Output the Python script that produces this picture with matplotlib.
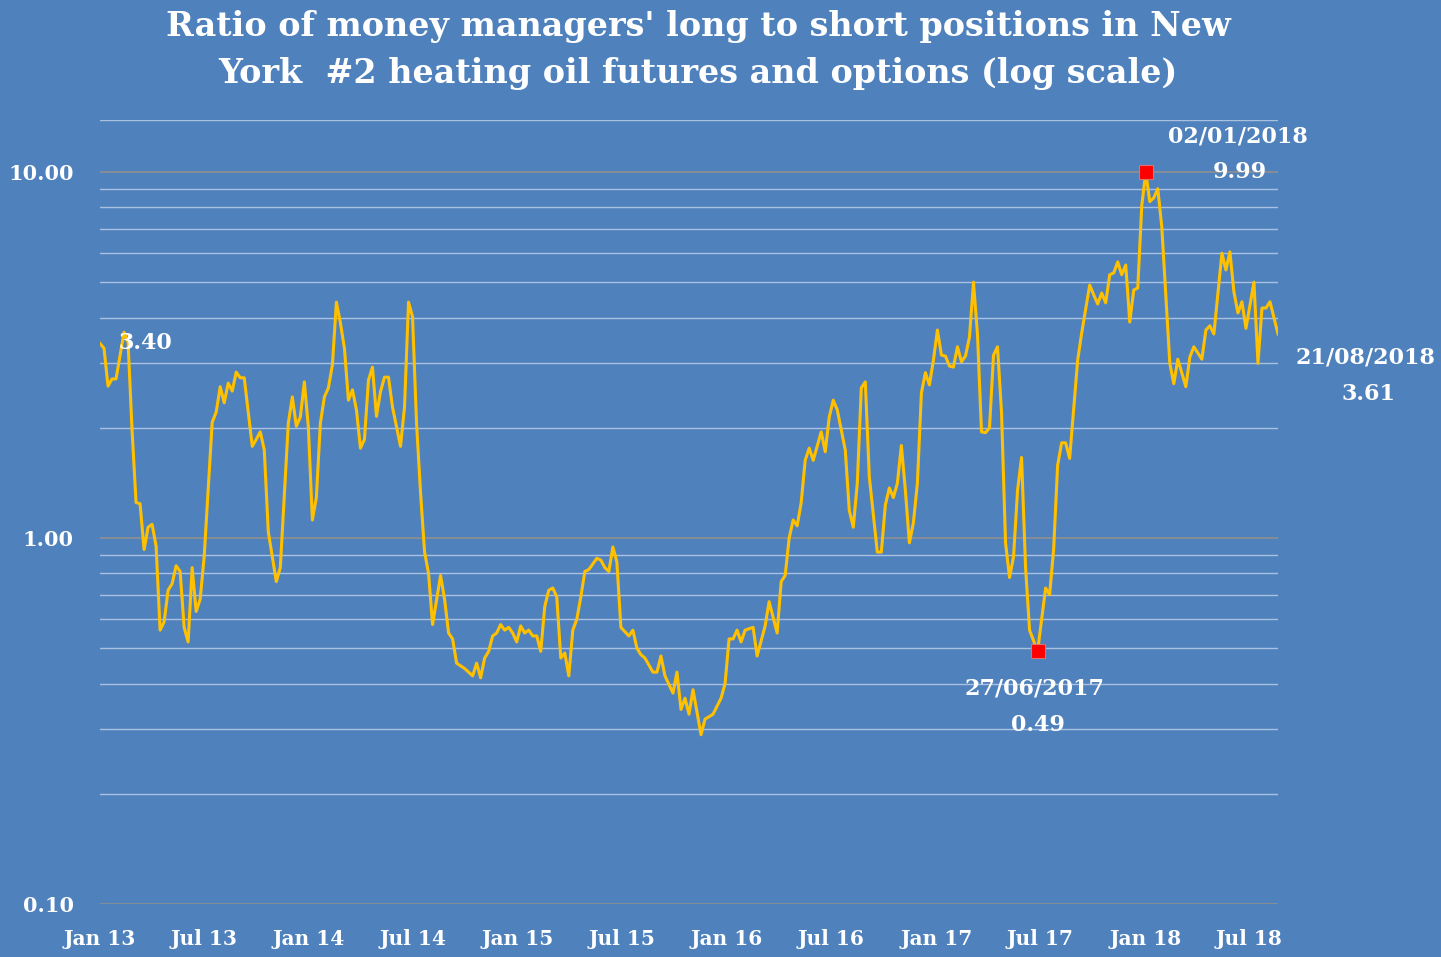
import numpy as np
import pandas as pd
import matplotlib.pyplot as plt
import matplotlib.ticker as mticker

# weekly reports, counted in weeks from 01/01/2013
weeks_13 = [0, 1, 2, 3, 4, 6, 7, 8, 9, 10, 11, 12, 13, 14, 15, 16, 17, 18, 19, 20, 21, 22, 23, 24, 25, 26,
            28, 29, 30, 31, 32, 33, 34, 35, 36, 38, 39, 40, 41, 42, 44, 45, 47, 48, 49, 50, 51, 52]
ratio_13 = [3.40, 3.30, 2.60, 2.72, 2.72, 3.65, 3.43, 1.97, 1.25, 1.24, 0.93, 1.07, 1.09, 0.95, 0.56, 0.59,
            0.72, 0.75, 0.84, 0.81, 0.57, 0.52, 0.83, 0.63, 0.68, 0.89,
            2.07, 2.21, 2.59, 2.34, 2.65, 2.52, 2.84, 2.74, 2.74, 1.78, 1.86, 1.95, 1.74, 1.04, 0.76, 0.83,
            2.06, 2.43, 2.02, 2.14, 2.67, 2.01]

weeks_14 = [53, 54, 55, 56, 57, 58, 59, 60, 61, 62, 63, 64, 65, 66, 67, 68, 69, 70, 71, 72, 73, 75, 76, 77,
            78, 79, 80, 81, 82, 83, 85, 86, 87, 88, 89, 91, 93, 94, 95, 96]
ratio_14 = [1.12, 1.29, 2.06, 2.43, 2.57, 2.97, 4.41, 3.87, 3.30, 2.38, 2.54, 2.24, 1.76, 1.86, 2.70, 2.93,
            2.15, 2.51, 2.75, 2.75, 2.28, 1.78, 2.28, 4.41, 4.02, 2.06, 1.33, 0.916, 0.80, 0.58, 0.79, 0.68,
            0.55, 0.53, 0.455, 0.44, 0.42, 0.455, 0.415, 0.47]

weeks_15 = [97, 98, 99, 100, 101, 102, 103, 104, 105, 106, 107, 108, 109, 110, 111, 112, 113, 114, 115, 116,
            117, 118, 119, 120, 121, 122, 124, 125, 126, 127, 128, 129, 130, 132, 133, 134, 135, 136, 138, 139,
            140, 141, 143, 144, 145, 146, 147, 148, 150, 151, 153, 155, 156]
ratio_15 = [0.49, 0.54, 0.55, 0.58, 0.56, 0.57, 0.55, 0.52, 0.575, 0.55, 0.56, 0.54, 0.54, 0.49, 0.65, 0.72,
            0.73, 0.69, 0.47, 0.485, 0.42, 0.56, 0.60, 0.69, 0.81, 0.82, 0.88, 0.87, 0.83, 0.81, 0.945, 0.86,
            0.57, 0.54, 0.56, 0.50, 0.48, 0.47, 0.43, 0.43, 0.476, 0.42, 0.377, 0.43, 0.34, 0.365, 0.33, 0.385,
            0.29, 0.32, 0.33, 0.365, 0.40]

weeks_16 = [157, 158, 159, 160, 161, 163, 164, 166, 167, 169, 170, 171, 172, 173, 174, 175, 176, 177, 178,
            180, 181, 182, 183, 184, 186, 187, 188, 189, 190, 191, 192, 194, 195, 196, 197, 198, 199, 200, 201,
            202, 203, 204]
ratio_16 = [0.53, 0.53, 0.56, 0.52, 0.56, 0.57, 0.476, 0.575, 0.67, 0.55, 0.76, 0.79, 1.0, 1.12, 1.08, 1.25,
            1.63, 1.76, 1.63, 1.95, 1.72, 2.14, 2.38, 2.24, 1.74, 1.19, 1.07, 1.41, 2.57, 2.67, 1.47, 0.915,
            0.915, 1.23, 1.37, 1.29, 1.41, 1.79, 1.35, 0.97, 1.10, 1.41]

weeks_17 = [205, 206, 207, 208, 209, 210, 211, 212, 213, 214, 215, 216, 217, 218, 219, 220, 221, 222, 223,
            224, 225, 226, 227, 228, 229, 230, 231, 232, 234, 236, 237, 238, 239, 240, 241, 242, 244, 245,
            247, 248, 249, 250, 251, 252, 253, 254, 255, 256, 257, 258, 259, 260]
ratio_17 = [2.49, 2.83, 2.62, 3.06, 3.70, 3.16, 3.14, 2.95, 2.93, 3.33, 3.03, 3.14, 3.54, 5.0, 3.6, 1.95,
            1.94, 2.0, 3.16, 3.33, 2.2, 0.97, 0.78, 0.89, 1.35, 1.66, 0.83, 0.56, 0.49, 0.73, 0.70, 0.93,
            1.58, 1.82, 1.82, 1.65, 3.06, 3.63, 4.91, 4.62, 4.36, 4.67, 4.39, 5.24, 5.3, 5.68, 5.24, 5.57,
            3.89, 4.76, 4.82, 8.1]

weeks_18 = [261, 262, 263, 264, 265, 267, 268, 269, 271, 272, 273, 275, 276, 277, 278, 280, 281, 282, 283,
            284, 285, 286, 288, 289, 290, 291, 292, 293, 294]
ratio_18 = [9.99, 8.3, 8.5, 9.0, 7.07, 3.0, 2.64, 3.08, 2.59, 3.12, 3.33, 3.08, 3.70, 3.80, 3.61, 6.0, 5.4,
            6.05, 4.70, 4.12, 4.42, 3.74, 5.0, 3.0, 4.25, 4.25, 4.42, 4.0, 3.61]

tick_dates = ['2013-01-01', '2013-07-01', '2014-01-01', '2014-07-01', '2015-01-01', '2015-07-01',
              '2016-01-01', '2016-07-01', '2017-01-01', '2017-07-01', '2018-01-01', '2018-07-01']
tick_labels = ['Jan 13', 'Jul 13', 'Jan 14', 'Jul 14', 'Jan 15', 'Jul 15',
               'Jan 16', 'Jul 16', 'Jan 17', 'Jul 17', 'Jan 18', 'Jul 18']

weeks = np.array(weeks_13 + weeks_14 + weeks_15 + weeks_16 + weeks_17 + weeks_18)
ratio = np.array(ratio_13 + ratio_14 + ratio_15 + ratio_16 + ratio_17 + ratio_18)
dates = pd.Timestamp('2013-01-01') + pd.to_timedelta(weeks * 7, unit='D')
df = pd.DataFrame({'date': dates, 'ratio': ratio})

BG = '#4F81BD'
LINE = '#FFC000'
FONT = 'DejaVu Serif'

fig = plt.figure(figsize=(14.41, 9.57), dpi=100, facecolor=BG)
ax = fig.add_axes([100 / 1441, 1 - 904 / 957, 1178 / 1441, 784 / 957])
ax.set_facecolor(BG)

ax.plot(df['date'], df['ratio'], color=LINE, linewidth=2.2, zorder=3)

ax.set_yscale('log')
ax.set_ylim(0.1, 10 ** (1 + 52 / 366))
ax.set_xlim(pd.Timestamp('2013-01-01'), pd.Timestamp('2018-08-21'))

ax.yaxis.set_major_locator(mticker.FixedLocator([0.1, 1, 10]))
ax.yaxis.set_major_formatter(mticker.FixedFormatter(['0.10', '1.00', '10.00']))
ax.yaxis.set_minor_locator(mticker.LogLocator(base=10, subs=np.arange(2, 10)))
ax.yaxis.set_minor_formatter(mticker.NullFormatter())
ax.grid(True, which='major', axis='y', color='#8f8f8f', linewidth=1.2, zorder=1)
ax.grid(True, which='minor', axis='y', color='#a9c0df', linewidth=1.0, zorder=1)
ax.axhline(10 ** (1 + 52 / 366), color='#a9c0df', linewidth=1.0, zorder=1)

ax.set_xticks(pd.to_datetime(tick_dates))
ax.set_xticklabels(tick_labels)

for s in ax.spines.values():
    s.set_visible(False)
ax.tick_params(axis='both', which='both', length=0)
ax.tick_params(axis='y', pad=19, labelsize=15, labelcolor='white')
ax.tick_params(axis='x', pad=18, labelsize=14.5, labelcolor='white')
for lab in ax.get_xticklabels() + ax.get_yticklabels():
    lab.set_fontfamily(FONT)
    lab.set_fontweight('bold')

# highlighted points: series high, low since 2017, first and last readings
peak = df.loc[df['ratio'].idxmax()]
recent = df[df['date'] >= '2017-01-01']
low = recent.loc[recent['ratio'].idxmin()]
first = df.iloc[0]
last = df.iloc[-1]
ax.plot([peak['date'], low['date']], [peak['ratio'], low['ratio']], linestyle='none', marker='s',
        markersize=10, markerfacecolor='#FF0000', markeredgecolor='#e07070', markeredgewidth=0.8, zorder=4)

txt = dict(color='white', fontsize=16, fontweight='bold', fontfamily=FONT, ha='center', va='center',
           textcoords='offset points')
ax.annotate(f"{first['ratio']:.2f}", (first['date'], first['ratio']), xytext=(13, 0),
            **{**txt, 'ha': 'left'})
ax.annotate(peak['date'].strftime('%d/%m/%Y'), (peak['date'], peak['ratio']), xytext=(66, 26), **txt)
ax.annotate(f"{peak['ratio']:.2f}", (peak['date'], peak['ratio']), xytext=(68, 0), **txt)
ax.annotate(low['date'].strftime('%d/%m/%Y'), (low['date'], low['ratio']), xytext=(-2, -27), **txt)
ax.annotate(f"{low['ratio']:.2f}", (low['date'], low['ratio']), xytext=(0, -53), **txt)
ax.annotate(last['date'].strftime('%d/%m/%Y'), (last['date'], last['ratio']), xytext=(63, -17),
            annotation_clip=False, **txt)
ax.annotate(f"{last['ratio']:.2f}", (last['date'], last['ratio']), xytext=(65, -43),
            annotation_clip=False, **txt)

fig.text(698 / 1441, 1 - 50 / 957,
         "Ratio of money managers' long to short positions in New\nYork  #2 heating oil futures and options (log scale)",
         ha='center', va='center', color='white', fontsize=24, fontweight='bold', fontfamily=FONT,
         linespacing=1.55)

fig.savefig('out.png', dpi=100, facecolor=BG)
